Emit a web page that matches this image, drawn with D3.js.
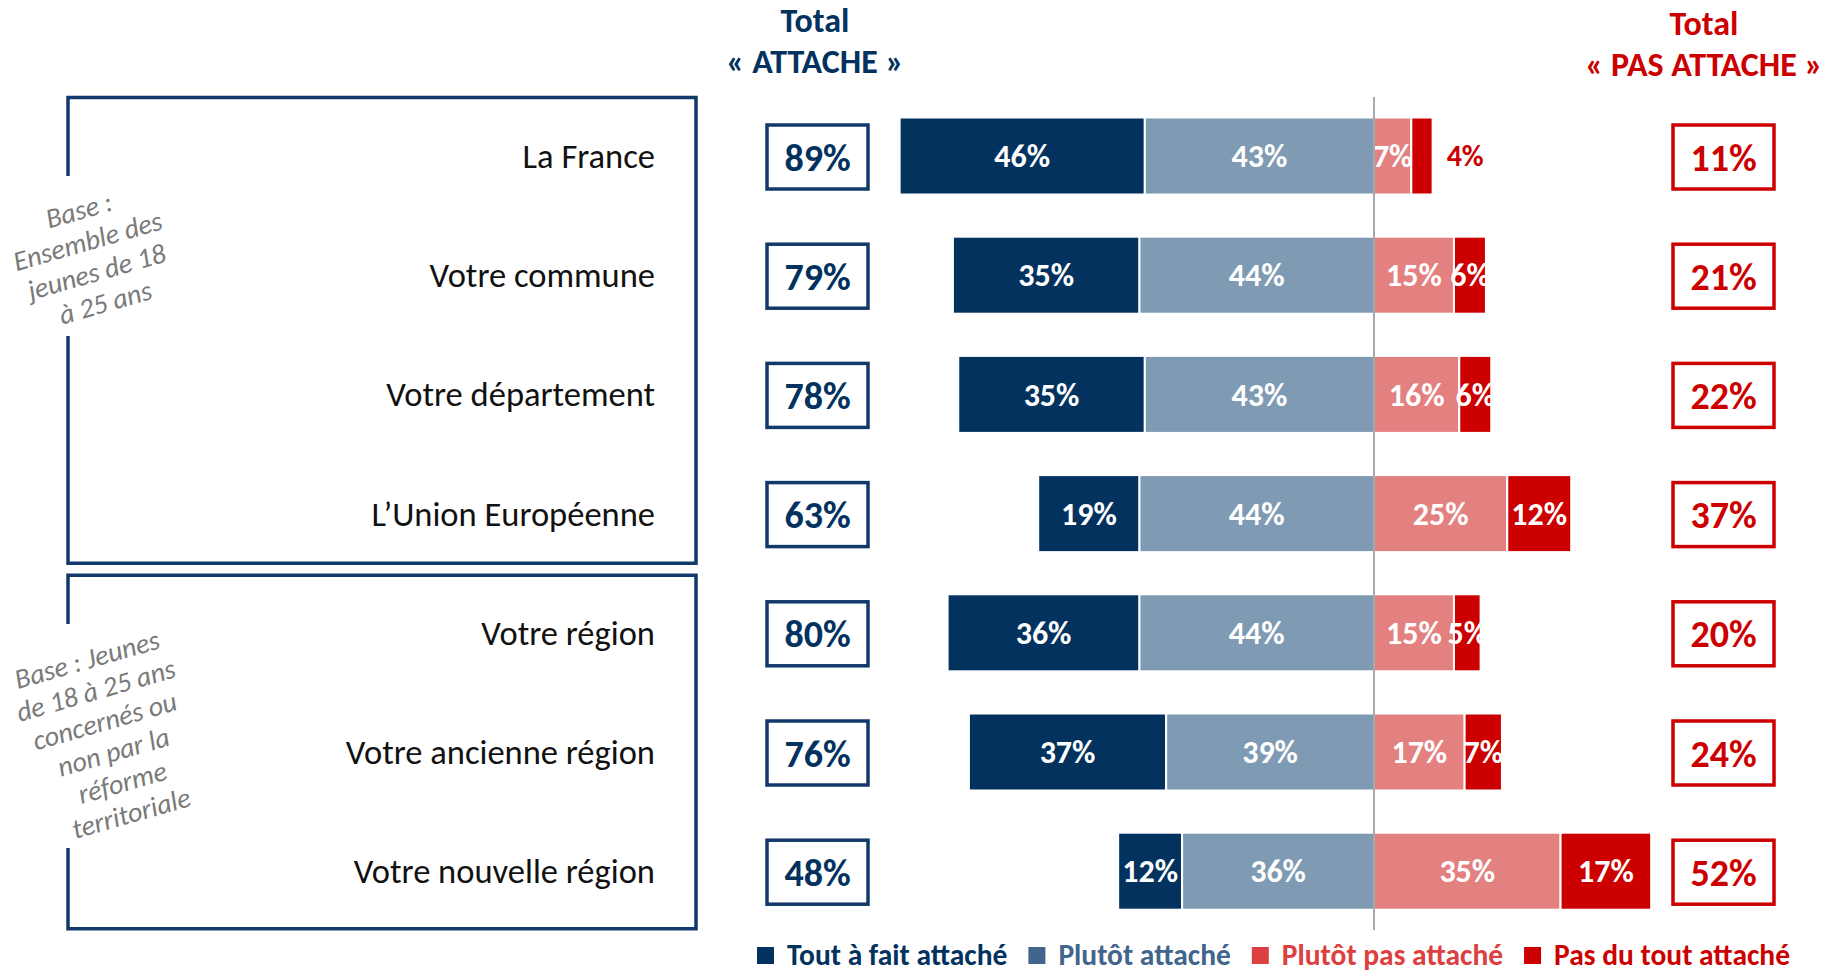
<!DOCTYPE html>
<head>
  <meta charset="utf-8" />
  <script src="https://d3js.org/d3.v7.min.js"></script>
  <style>
    body {
      margin: 0;
      background: #fff;
    }
    svg text {
      font-family: Carlito, Lato, "Open Sans", sans-serif;
    }
  </style>
</head>

<body>
  <script>
    var width = 1829,
      height = 976;

    // donnees
    var categories = [
      "La France",
      "Votre commune",
      "Votre département",
      "L’Union Européenne",
      "Votre région",
      "Votre ancienne région",
      "Votre nouvelle région"
    ];
    var toutAFait = [46, 35, 35, 19, 36, 37, 12];
    var plutot = [43, 44, 43, 44, 44, 39, 36];
    var plutotPas = [7, 15, 16, 25, 15, 17, 35];
    var pasDuTout = [4, 6, 6, 12, 5, 7, 17];
    var totalAttache = [89, 79, 78, 63, 80, 76, 48];
    var totalPasAttache = [11, 21, 22, 37, 20, 24, 52];

    var legendLabels = ["Tout à fait attaché", "Plutôt attaché", "Plutôt pas attaché", "Pas du tout attaché"];

    // groupes de lignes (index debut, fin) et leur note
    var groupRows = [[0, 3], [4, 6]];
    var groupNotes = [
      ["Base :", "Ensemble des", "jeunes de 18", "à 25 ans"],
      ["Base : Jeunes", "de 18 à 25 ans", "concernés ou", "non par la", "réforme", "territoriale"]
    ];

    var navy = "#03325f",
      lightBlue = "#7f9ab3",
      pink = "#e38080",
      red = "#cc0000",
      boxNavy = "#12396a";

    var barColors = [navy, lightBlue, pink, red];
    var legendColors = [navy, "#41658c", "#dc4040", red];

    var svg = d3
      .select("body")
      .append("svg")
      .attr("width", width)
      .attr("height", height);

    var x = d3.scaleLinear().domain([-100, 100]).range([1374 - 533, 1374 + 533]);

    var y = d3
      .scaleBand()
      .domain(categories)
      .range([96.4, 930.8])
      .paddingInner(0.354)
      .paddingOuter(0.177);

    var bw = y.bandwidth();

    // table pour les barres empilees
    var rows = categories.map(function (c, i) {
      return {
        cat: c,
        segs: [
          { k: 0, v: toutAFait[i], x0: -(toutAFait[i] + plutot[i]), x1: -plutot[i] },
          { k: 1, v: plutot[i], x0: -plutot[i], x1: 0 },
          { k: 2, v: plutotPas[i], x0: 0, x1: plutotPas[i] },
          { k: 3, v: pasDuTout[i], x0: plutotPas[i], x1: plutotPas[i] + pasDuTout[i] }
        ]
      };
    });

    // titres
    var titles = [
      { lines: ["Total", "« ATTACHE »"], cx: 815, y0: 32, color: navy },
      { lines: ["Total", "« PAS ATTACHE »"], cx: 1704, y0: 35, color: red }
    ];
    titles.forEach(function (t) {
      svg.append("text")
        .attr("text-anchor", "middle")
        .attr("fill", t.color)
        .style("font-weight", "bold")
        .style("font-size", "34px")
        .selectAll("tspan")
        .data(t.lines)
        .join("tspan")
        .attr("x", t.cx)
        .attr("y", function (d, i) { return t.y0 + i * 41; })
        .text(function (d) { return d; });
    });

    // cadres des groupes
    var boxLeft = 68,
      boxRight = 696;
    var split = (y(categories[3]) + bw + y(categories[4])) / 2 - 4;
    var noteCenters = [[92, 256], [109, 736]];
    var lineH = 32;

    groupRows.forEach(function (g, gi) {
      var top = gi == 0 ? y(categories[g[0]]) - 20 : split + 6;
      var bottom = gi == 0 ? split - 6 : y(categories[g[1]]) + bw + 19;
      var half = groupNotes[gi].length * lineH / 2 + 16;
      var gapTop = noteCenters[gi][1] - half,
        gapBottom = noteCenters[gi][1] + half;
      var p = d3.path();
      p.moveTo(boxLeft, gapTop);
      p.lineTo(boxLeft, top);
      p.lineTo(boxRight, top);
      p.lineTo(boxRight, bottom);
      p.lineTo(boxLeft, bottom);
      p.lineTo(boxLeft, gapBottom);
      svg.append("path")
        .attr("d", p.toString())
        .attr("fill", "none")
        .attr("stroke", boxNavy)
        .attr("stroke-width", 3.5);

      var n = groupNotes[gi].length;
      svg.append("g")
        .attr("transform", "translate(" + noteCenters[gi][0] + "," + noteCenters[gi][1] + ") rotate(-16)")
        .selectAll("text")
        .data(groupNotes[gi])
        .join("text")
        .attr("text-anchor", "middle")
        .attr("y", function (d, i) { return (i - (n - 1) / 2) * lineH; })
        .attr("dy", "0.35em")
        .attr("fill", "#7a7a7a")
        .style("font-style", "italic")
        .style("font-size", "28px")
        .text(function (d) { return d; });
    });

    // libelles des categories
    svg.append("g")
      .selectAll("text")
      .data(categories)
      .join("text")
      .attr("x", 655)
      .attr("y", function (d) { return y(d) + bw / 2; })
      .attr("dy", "0.35em")
      .attr("text-anchor", "end")
      .attr("fill", "#111")
      .style("font-size", "34.5px")
      .text(function (d) { return d; });

    // barres
    var rowG = svg.append("g")
      .selectAll("g")
      .data(rows)
      .join("g")
      .attr("transform", function (d) { return "translate(0," + y(d.cat) + ")"; });

    rowG.selectAll("rect")
      .data(function (d) { return d.segs; })
      .join("rect")
      .attr("x", function (d) { return x(d.x0); })
      .attr("width", function (d) { return x(d.x1) - x(d.x0); })
      .attr("y", 0)
      .attr("height", bw)
      .attr("fill", function (d) { return barColors[d.k]; })
      .attr("stroke", "#fff")
      .attr("stroke-width", 2);

    rowG.selectAll("text")
      .data(function (d) { return d.segs; })
      .join("text")
      .attr("x", function (d) {
        // trop petit : le libelle passe a droite
        if (d.v < 5) return x(d.x1) + 14;
        return (x(d.x0) + x(d.x1)) / 2;
      })
      .attr("y", bw / 2)
      .attr("dy", "0.35em")
      .attr("text-anchor", function (d) { return d.v < 5 ? "start" : "middle"; })
      .attr("fill", function (d) { return d.v < 5 ? red : "#fff"; })
      .style("font-weight", "bold")
      .style("font-size", function (d) { return d.v < 5 ? "30px" : "32px"; })
      .text(function (d) { return d.v + "%"; });

    // ligne du zero
    svg.append("line")
      .attr("x1", x(0))
      .attr("x2", x(0))
      .attr("y1", 97)
      .attr("y2", 930)
      .attr("stroke", "#8c8c8c")
      .attr("stroke-width", 1.5);

    // encadres des totaux
    var totals = [
      { vals: totalAttache, x0: 767, color: boxNavy, tcolor: navy },
      { vals: totalPasAttache, x0: 1673, color: red, tcolor: red }
    ];
    totals.forEach(function (t) {
      var g = svg.append("g")
        .selectAll("g")
        .data(t.vals)
        .join("g")
        .attr("transform", function (d, i) { return "translate(" + t.x0 + "," + (y(categories[i]) + bw / 2 + 1) + ")"; });
      g.append("rect")
        .attr("x", 0)
        .attr("y", -32)
        .attr("width", 101)
        .attr("height", 64)
        .attr("fill", "#fff")
        .attr("stroke", t.color)
        .attr("stroke-width", 3.5);
      g.append("text")
        .attr("x", 50.5)
        .attr("dy", "0.36em")
        .attr("text-anchor", "middle")
        .attr("fill", t.tcolor)
        .style("font-weight", "bold")
        .style("font-size", "38px")
        .text(function (d) { return d + "%"; });
    });

    // legende
    var lx = 757,
      ly = 965;
    legendLabels.forEach(function (l, i) {
      svg.append("rect")
        .attr("x", lx)
        .attr("y", ly - 18)
        .attr("width", 17)
        .attr("height", 17)
        .attr("fill", legendColors[i]);
      var t = svg.append("text")
        .attr("x", lx + 30)
        .attr("y", ly)
        .attr("fill", legendColors[i])
        .style("font-weight", "bold")
        .style("font-size", "29.5px")
        .text(l);
      lx = lx + 30 + t.node().getComputedTextLength() + 21;
    });
  </script>
</body>
